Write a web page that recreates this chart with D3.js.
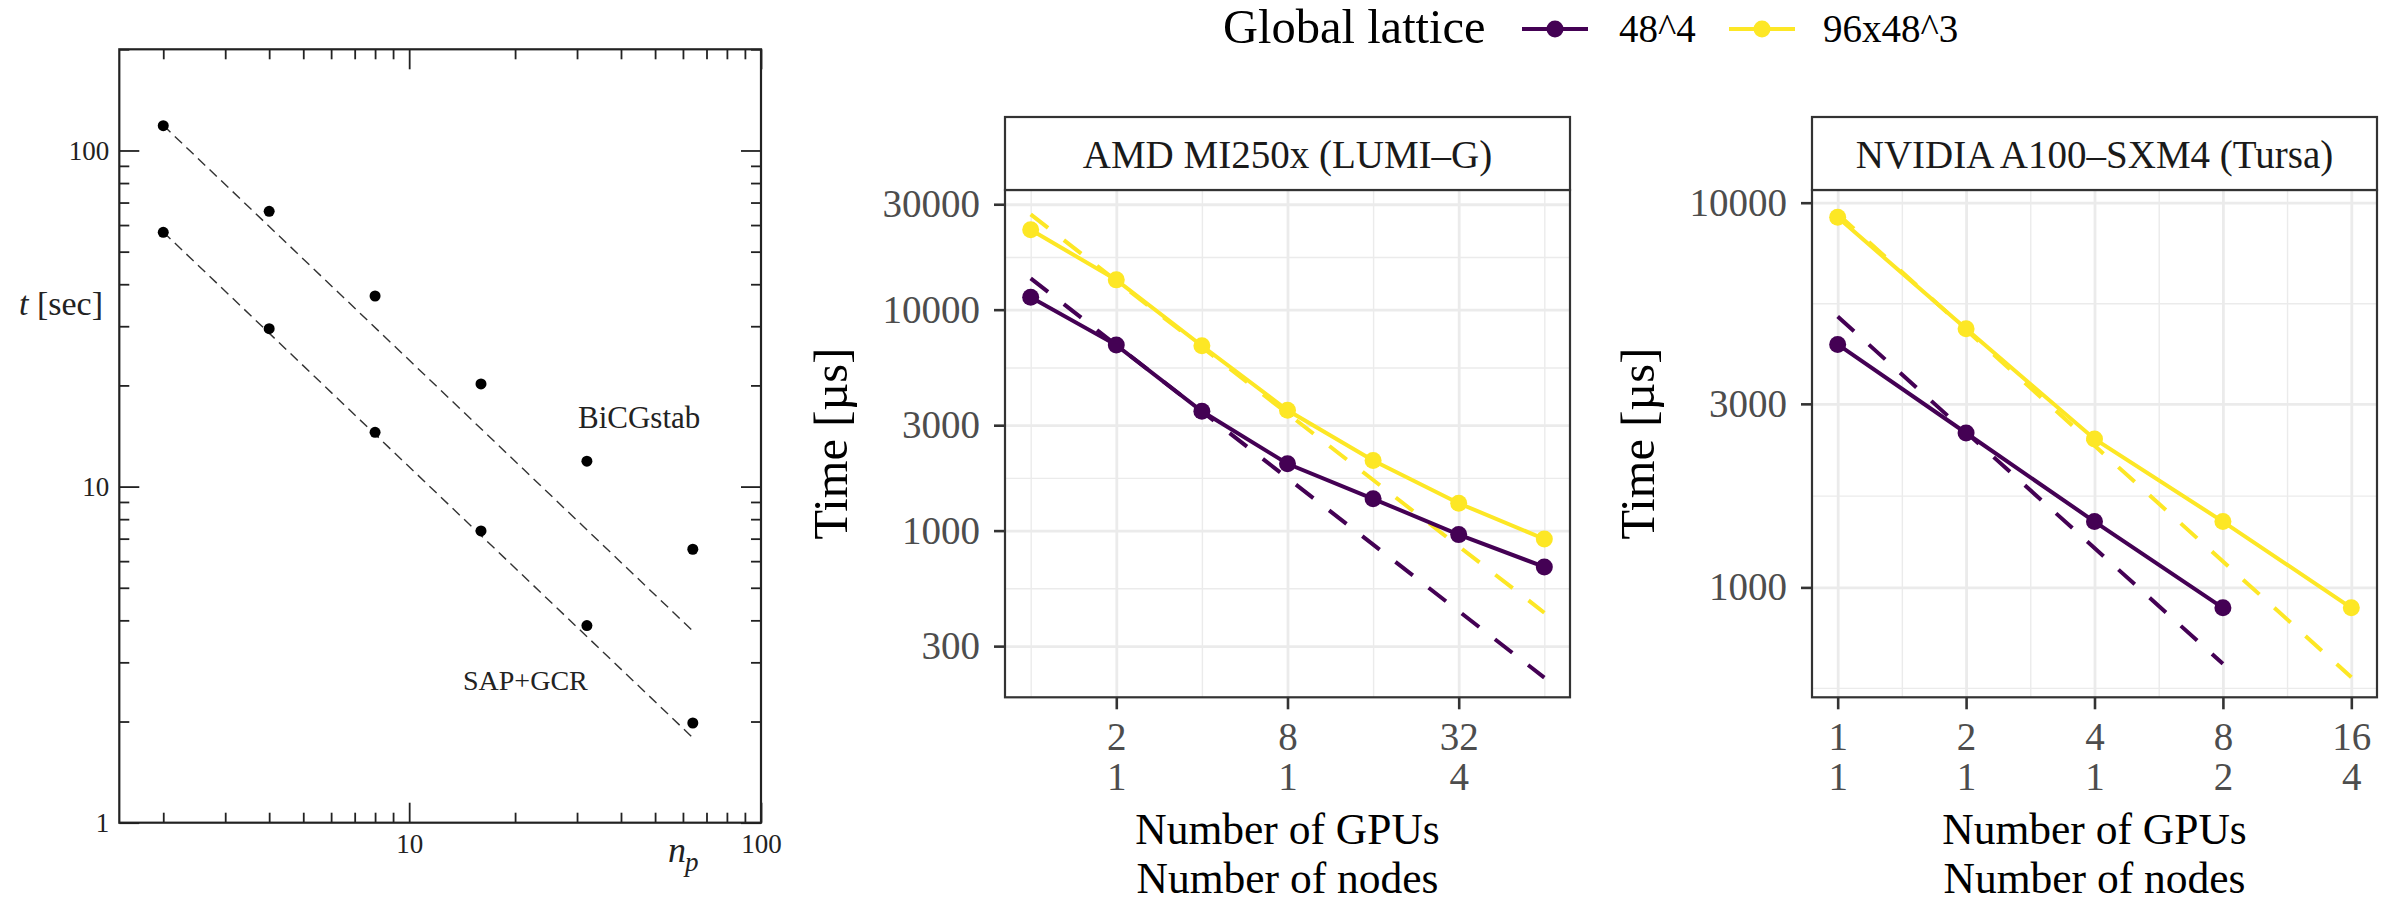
<!DOCTYPE html>
<html>
<head>
<meta charset="utf-8">
<title>Solver scaling</title>
<script src="https://d3js.org/d3.v7.min.js"></script>
<style>
    body { margin: 0; background: #fff; }
    text { font-family: "Liberation Serif", "Times New Roman", Times, serif; }
</style>
</head>
<body>
<script>
// ---- left panel: t [sec] against n_p ----
var np = [2, 4, 8, 16, 32, 64];
var tBicgstab = [118.5, 65.9, 36.9, 20.2, 11.9, 6.51];
var tSapGcr = [57.1, 29.5, 14.5, 7.38, 3.86, 1.98];
var npIdeal = [2, 64];
var tBicgstabIdeal = [118.8, 3.72];
var tSapGcrIdeal = [57.2, 1.79];
var npMajor = [10, 100];
var npMinor = [2, 3, 4, 5, 6, 7, 8, 9, 20, 30, 40, 50, 60, 70, 80, 90];
var tMajor = [1, 10, 100];
var tMinor = [2, 3, 4, 5, 6, 7, 8, 9, 20, 30, 40, 50, 60, 70, 80, 90, 200];

// ---- facets: Time [µs] against number of GPUs ----
var lattices = ["48^4", "96x48^3"];
var latticeColors = ["#440154", "#FDE725"];

var lumiGpus = [1, 2, 4, 8, 16, 32, 64];
var lumi48 = [11380, 6915, 3469, 2007, 1393, 959, 685];
var lumi96 = [23000, 13640, 6866, 3505, 2078, 1330, 916];
var lumiIdealGpus = [1, 64];
var lumi48Ideal = [13850, 216];
var lumi96Ideal = [27000, 425];
var lumiXBreaks = [2, 8, 32];
var lumiNodes = ["1", "1", "4"];
var lumiXMinor = [1, 4, 16, 64];
var lumiYBreaks = [300, 1000, 3000, 10000, 30000];
var lumiYMinor = [548, 1732, 5477, 17321];

var tursaGpus48 = [1, 2, 4, 8];
var tursaGpus96 = [1, 2, 4, 8, 16];
var tursa48 = [4281, 2520, 1483, 885];
var tursa96 = [9160, 4705, 2431, 1483, 885];
var tursa48IdealGpus = [1, 8];
var tursa48Ideal = [5060, 633];
var tursa96IdealGpus = [1, 16];
var tursa96Ideal = [9350, 584];
var tursaXBreaks = [1, 2, 4, 8, 16];
var tursaNodes = ["1", "1", "1", "2", "4"];
var tursaXMinor = [1.414, 2.828, 5.657, 11.31];
var tursaYBreaks = [1000, 3000, 10000];
var tursaYMinor = [548, 1732, 5477];

var svg = d3.select("body").append("svg")
            .attr("width", 2390)
            .attr("height", 903);

// ================= left panel =================
var L = {left: 119.3, right: 761, top: 49.3, bottom: 822.7};
var ink = "#222";
var lx = d3.scaleLog().domain([1.5, 100]).range([L.left, L.right]);
var ly = d3.scaleLog().domain([1, 200]).range([L.bottom, L.top]);
var left = svg.append("g");

// ticks point inwards on all four sides
function leftAxis(make, scale, values, len, tx, ty, fmt, pad) {
    var g = left.append("g")
                .attr("transform", "translate(" + tx + "," + ty + ")")
                .call(make(scale).tickValues(values).tickSize(-len).tickSizeOuter(0)
                      .tickPadding(pad || 0).tickFormat(fmt || ""));
    g.select(".domain").remove();
    g.selectAll(".tick line").attr("stroke", ink).attr("stroke-width", 1.8);
    g.selectAll(".tick text").attr("font-size", 27).attr("fill", ink);
}
leftAxis(d3.axisLeft, ly, tMajor, 20, L.left, 0, d3.format("d"), 10);
leftAxis(d3.axisLeft, ly, tMinor, 10, L.left, 0);
leftAxis(d3.axisRight, ly, tMajor, 20, L.right, 0);
leftAxis(d3.axisRight, ly, tMinor, 10, L.right, 0);
leftAxis(d3.axisBottom, lx, npMajor, 20, 0, L.bottom, d3.format("d"), 11);
leftAxis(d3.axisBottom, lx, npMinor, 10, 0, L.bottom);
leftAxis(d3.axisTop, lx, npMajor, 20, 0, L.top);
leftAxis(d3.axisTop, lx, npMinor, 10, 0, L.top);

left.append("rect")
    .attr("x", L.left).attr("y", L.top)
    .attr("width", L.right - L.left).attr("height", L.bottom - L.top)
    .attr("fill", "none").attr("stroke", ink).attr("stroke-width", 2.2);

var lline = d3.line()
              .x(function(d) { return lx(d[0]); })
              .y(function(d) { return ly(d[1]); });

[tBicgstabIdeal, tSapGcrIdeal].forEach(function(v) {
    left.append("path")
        .datum(d3.zip(npIdeal, v))
        .attr("d", lline)
        .attr("fill", "none")
        .attr("stroke", "#333")
        .attr("stroke-width", 1.4)
        .attr("stroke-dasharray", "10,6");
});

[tBicgstab, tSapGcr].forEach(function(v) {
    left.selectAll(null)
        .data(d3.zip(np, v))
        .enter()
        .append("circle")
        .attr("cx", function(d) { return lx(d[0]); })
        .attr("cy", function(d) { return ly(d[1]); })
        .attr("r", 5.5)
        .attr("fill", "#000");
});

left.append("text").attr("x", 578).attr("y", 428).attr("font-size", 31).attr("fill", ink).text("BiCGstab");
left.append("text").attr("x", 463).attr("y", 690).attr("font-size", 28).attr("fill", ink).text("SAP+GCR");

var tLab = left.append("text").attr("x", 103).attr("y", 315)
               .attr("text-anchor", "end").attr("font-size", 34).attr("fill", ink);
tLab.append("tspan").attr("font-style", "italic").text("t");
tLab.append("tspan").text(" [sec]");

left.append("text").attr("x", 668).attr("y", 862).attr("font-size", 36)
    .attr("font-style", "italic").attr("fill", ink).text("n");
left.append("text").attr("x", 685).attr("y", 871).attr("font-size", 27)
    .attr("font-style", "italic").attr("fill", ink).text("p");

// ================= facets =================
var stripTop = 117, panelTop = 190, panelBottom = 697.3;

function facet(o) {
    var x = d3.scaleLog().base(2).domain(o.xDomain).range([o.left, o.right]);
    var y = d3.scaleLog().domain(o.yDomain).range([panelBottom, panelTop]);
    var w = o.right - o.left, h = panelBottom - panelTop;
    var g = svg.append("g");

    // grid lines
    function grid(axis, values, width, tx, ty) {
        var gg = g.append("g")
                  .attr("transform", "translate(" + tx + "," + ty + ")")
                  .call(axis.tickValues(values).tickFormat("").tickSizeOuter(0));
        gg.select(".domain").remove();
        gg.selectAll(".tick line").attr("stroke", "#EBEBEB").attr("stroke-width", width);
    }
    grid(d3.axisBottom(x).tickSize(-h), o.xMinor, 1.4, 0, panelBottom);
    grid(d3.axisLeft(y).tickSize(-w), o.yMinor, 1.4, o.left, 0);
    grid(d3.axisBottom(x).tickSize(-h), o.xBreaks, 2.8, 0, panelBottom);
    grid(d3.axisLeft(y).tickSize(-w), o.yBreaks, 2.8, o.left, 0);

    var line = d3.line()
                 .x(function(d) { return x(d[0]); })
                 .y(function(d) { return y(d[1]); });

    o.series.forEach(function(s) {
        g.append("path")
         .datum(d3.zip(s.idealGpus, s.ideal))
         .attr("d", line)
         .attr("fill", "none")
         .attr("stroke", s.color)
         .attr("stroke-width", 4)
         .attr("stroke-dasharray", "22,20");
    });
    o.series.forEach(function(s) {
        g.append("path")
         .datum(d3.zip(s.gpus, s.values))
         .attr("d", line)
         .attr("fill", "none")
         .attr("stroke", s.color)
         .attr("stroke-width", 4);
    });
    o.series.forEach(function(s) {
        g.selectAll(null)
         .data(d3.zip(s.gpus, s.values))
         .enter()
         .append("circle")
         .attr("cx", function(d) { return x(d[0]); })
         .attr("cy", function(d) { return y(d[1]); })
         .attr("r", 8.5)
         .attr("fill", s.color);
    });

    g.append("rect")
     .attr("x", o.left).attr("y", panelTop).attr("width", w).attr("height", h)
     .attr("fill", "none").attr("stroke", "#333").attr("stroke-width", 2.2);

    // strip
    g.append("rect")
     .attr("x", o.left).attr("y", stripTop).attr("width", w).attr("height", panelTop - stripTop)
     .attr("fill", "#fff").attr("stroke", "#333").attr("stroke-width", 2.2);
    g.append("text")
     .attr("x", (o.left + o.right) / 2).attr("y", 168)
     .attr("text-anchor", "middle").attr("font-size", 39).attr("fill", "#1A1A1A")
     .text(o.title);

    // axes
    var ya = g.append("g")
              .attr("transform", "translate(" + o.left + ",0)")
              .call(d3.axisLeft(y).tickValues(o.yBreaks).tickFormat(d3.format("d"))
                    .tickSize(11).tickPadding(14).tickSizeOuter(0));
    ya.select(".domain").remove();
    ya.selectAll(".tick line").attr("stroke", "#333").attr("stroke-width", 2.6);
    ya.selectAll(".tick text").attr("font-size", 39).attr("fill", "#4D4D4D");

    var xa = g.append("g")
              .attr("transform", "translate(0," + panelBottom + ")")
              .call(d3.axisBottom(x).tickValues(o.xBreaks).tickSize(12).tickSizeOuter(0));
    xa.select(".domain").remove();
    xa.selectAll(".tick line").attr("stroke", "#333").attr("stroke-width", 2.6);
    xa.selectAll(".tick text").each(function(d, i) {
        var t = d3.select(this).text(null).attr("y", null).attr("dy", null)
                  .attr("font-size", 39).attr("fill", "#4D4D4D");
        t.append("tspan").attr("x", 0).attr("y", 52.7).text(d);
        t.append("tspan").attr("x", 0).attr("y", 92.7).text(o.nodes[i]);
    });

    g.append("text")
     .attr("transform", "translate(" + (o.left - 158) + "," + ((panelTop + panelBottom) / 2) + ") rotate(-90)")
     .attr("text-anchor", "middle").attr("font-size", 48.5).attr("fill", "#000")
     .text("Time [µs]");
    g.append("text")
     .attr("x", (o.left + o.right) / 2).attr("y", 844)
     .attr("text-anchor", "middle").attr("font-size", 43.5).text("Number of GPUs");
    g.append("text")
     .attr("x", (o.left + o.right) / 2).attr("y", 893)
     .attr("text-anchor", "middle").attr("font-size", 43.5).text("Number of nodes");
}

facet({
    title: "AMD MI250x (LUMI\u2013G)",
    left: 1005, right: 1570,
    xDomain: [Math.pow(2, -0.3), Math.pow(2, 6.3)],
    yDomain: [176, 34800],
    xBreaks: lumiXBreaks, xMinor: lumiXMinor, nodes: lumiNodes,
    yBreaks: lumiYBreaks, yMinor: lumiYMinor,
    series: [
        {gpus: lumiGpus, values: lumi48, idealGpus: lumiIdealGpus, ideal: lumi48Ideal, color: latticeColors[0]},
        {gpus: lumiGpus, values: lumi96, idealGpus: lumiIdealGpus, ideal: lumi96Ideal, color: latticeColors[1]}
    ]
});

facet({
    title: "NVIDIA A100\u2013SXM4 (Tursa)",
    left: 1812, right: 2377,
    xDomain: [Math.pow(2, -0.2), Math.pow(2, 4.2)],
    yDomain: [518, 10790],
    xBreaks: tursaXBreaks, xMinor: tursaXMinor, nodes: tursaNodes,
    yBreaks: tursaYBreaks, yMinor: tursaYMinor,
    series: [
        {gpus: tursaGpus48, values: tursa48, idealGpus: tursa48IdealGpus, ideal: tursa48Ideal, color: latticeColors[0]},
        {gpus: tursaGpus96, values: tursa96, idealGpus: tursa96IdealGpus, ideal: tursa96Ideal, color: latticeColors[1]}
    ]
});

// legend
var leg = svg.append("g");
leg.append("text").attr("x", 1223).attr("y", 43).attr("font-size", 48.5).text("Global lattice");
var keyX = [1555, 1762], keyLabelX = [1619, 1823];
lattices.forEach(function(name, i) {
    leg.append("line")
       .attr("x1", keyX[i] - 33).attr("x2", keyX[i] + 33)
       .attr("y1", 29).attr("y2", 29)
       .attr("stroke", latticeColors[i]).attr("stroke-width", 4);
    leg.append("circle").attr("cx", keyX[i]).attr("cy", 29).attr("r", 8.5).attr("fill", latticeColors[i]);
    leg.append("text").attr("x", keyLabelX[i]).attr("y", 42).attr("font-size", 39).text(name);
});
</script>
</body>
</html>
